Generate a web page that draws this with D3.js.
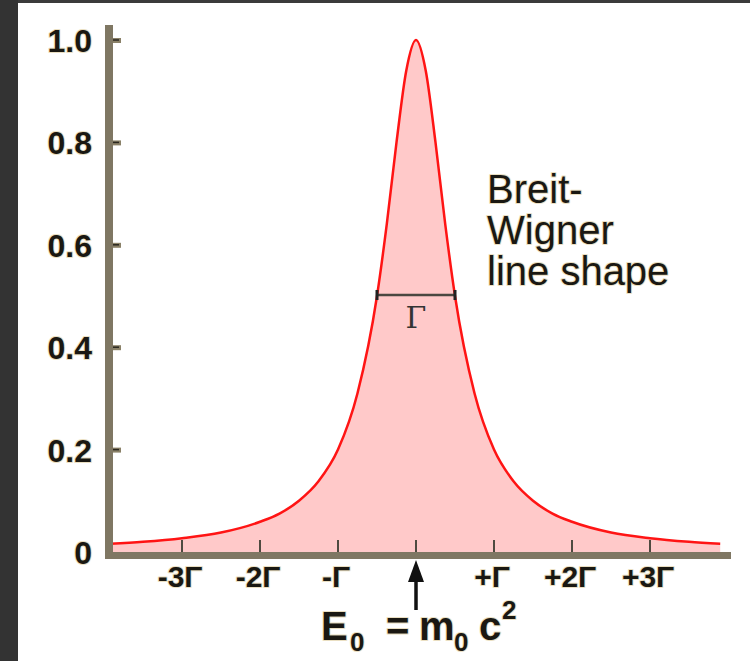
<!DOCTYPE html>
<html>
<head>
<meta charset="utf-8">
<script src="https://cdn.jsdelivr.net/npm/d3@7"></script>
<style>
  body { margin: 0; background: #ffffff; }
  svg { display: block; }
  text { font-family: "Liberation Sans", Arial, sans-serif; fill: #1a1812; }
  .halo { paint-order: stroke; stroke: #eadfc2; stroke-width: 2px; stroke-linejoin: round; }
</style>
</head>
<body>
<svg width="750" height="661"></svg>
<script>
// breit-wigner curve (x in units of Gamma, y relative)
var curveX = [-3.92, -3.5, -3, -2.5, -2, -1.75, -1.5, -1.25, -1, -0.75, -0.5, -0.375, -0.25, -0.125, 0,
              0.125, 0.25, 0.375, 0.5, 0.75, 1, 1.25, 1.5, 1.75, 2, 2.5, 3, 3.5, 3.9];
var curveY = [0.016, 0.020, 0.027, 0.038, 0.059, 0.075, 0.100, 0.138, 0.200, 0.310, 0.500, 0.640, 0.800, 0.940, 1.0,
              0.940, 0.800, 0.640, 0.500, 0.310, 0.200, 0.138, 0.100, 0.075, 0.059, 0.038, 0.027, 0.020, 0.016];

var xTicks = [-3, -2, -1, 0, 1, 2, 3];
var xLabels = ['-3\u0393', '-2\u0393', '-\u0393', '', '+\u0393', '+2\u0393', '+3\u0393'];
var yTicks = [0, 0.2, 0.4, 0.6, 0.8, 1.0];
var yLabels = ['0', '0.2', '0.4', '0.6', '0.8', '1.0'];
var halfWidth = [-0.5, 0.5];

var svg = d3.select('svg');

// dark frame strips
svg.append('rect').attr('x', 0).attr('y', 0).attr('width', 750).attr('height', 3).attr('fill', '#3b3b3b');
svg.append('rect').attr('x', 0).attr('y', 0).attr('width', 18).attr('height', 661).attr('fill', '#333333');

var x = d3.scaleLinear().domain([-4, 4]).range([104, 728]);
var y = d3.scaleLinear().domain([0, 1]).range([552, 40]);

var pts = curveX.map(function(v, i) { return [v, curveY[i]]; });

var area = d3.area()
  .x(function(d) { return x(d[0]); })
  .y0(y(0))
  .y1(function(d) { return y(d[1]); })
  .curve(d3.curveMonotoneX);
var line = d3.line()
  .x(function(d) { return x(d[0]); })
  .y(function(d) { return y(d[1]); })
  .curve(d3.curveMonotoneX);

svg.append('path').datum(pts).attr('d', area).attr('fill', '#ffc9c9');

// x ticks over the fill
svg.selectAll('.xt').data(xTicks).enter().append('line')
  .attr('x1', function(d) { return x(d); }).attr('x2', function(d) { return x(d); })
  .attr('y1', 540).attr('y2', 553)
  .attr('stroke', '#4f4a40').attr('stroke-width', 2);

svg.append('path').datum(pts).attr('d', line)
  .attr('fill', 'none').attr('stroke', '#ff1414').attr('stroke-width', 2.5);

// axes
var axisCol = '#7f7763';
svg.append('rect').attr('x', 105).attr('y', 25).attr('width', 8).attr('height', 534).attr('fill', axisCol);
svg.append('rect').attr('x', 105).attr('y', y(0)).attr('width', 626).attr('height', 7).attr('fill', axisCol);

svg.selectAll('.yt').data(yTicks.slice(1)).enter().append('rect')
  .attr('x', 113).attr('y', function(d) { return y(d) - 2; })
  .attr('width', 8).attr('height', 5).attr('fill', '#8a8168');
svg.selectAll('.ytd').data(yTicks.slice(1)).enter().append('line')
  .attr('x1', 113).attr('x2', 119)
  .attr('y1', function(d) { return y(d); }).attr('y2', function(d) { return y(d); })
  .attr('stroke', '#2a2720').attr('stroke-width', 1.5);

svg.selectAll('.yl').data(yTicks).enter().append('text')
  .attr('class', 'halo')
  .attr('x', 92).attr('y', function(d) { return y(d) + 12; })
  .attr('text-anchor', 'end')
  .attr('font-size', 32).attr('font-weight', 'bold')
  .text(function(d, i) { return yLabels[i]; });

svg.selectAll('.xl').data(xTicks).enter().append('text')
  .attr('class', 'halo')
  .attr('x', function(d) { return x(d) - 2; }).attr('y', 587)
  .attr('text-anchor', 'middle')
  .attr('font-size', 30).attr('font-weight', 'bold')
  .text(function(d, i) { return xLabels[i]; });

// arrow at E0
svg.append('line').attr('x1', x(0)).attr('x2', x(0)).attr('y1', 610).attr('y2', 576)
  .attr('stroke', '#111').attr('stroke-width', 3.5);
svg.append('path')
  .attr('d', 'M' + x(0) + ',560 L' + (x(0) - 8) + ',582 L' + (x(0) + 8) + ',582 Z')
  .attr('fill', '#111');

// E0 = m0 c^2
var eq = svg.append('text').attr('class', 'halo').attr('y', 640)
  .attr('font-size', 40).attr('font-weight', 'bold');
eq.append('tspan').attr('x', 321).text('E');
eq.append('tspan').attr('x', 350).attr('y', 651).attr('font-size', 26).text('0');
eq.append('tspan').attr('x', 386).attr('y', 640).text('=');
eq.append('tspan').attr('x', 419).attr('y', 640).text('m');
eq.append('tspan').attr('x', 454).attr('y', 651).attr('font-size', 26).text('0');
eq.append('tspan').attr('x', 479).attr('y', 640).text('c');
eq.append('tspan').attr('x', 502).attr('y', 619).attr('font-size', 26).text('2');

// FWHM marker
var yh = y(0.5) - 1;
svg.append('line').attr('x1', x(halfWidth[0])).attr('x2', x(halfWidth[1])).attr('y1', yh).attr('y2', yh)
  .attr('stroke', '#4a4740').attr('stroke-width', 2.5);
svg.selectAll('.cap').data(halfWidth).enter().append('line')
  .attr('x1', function(d) { return x(d); }).attr('x2', function(d) { return x(d); })
  .attr('y1', yh - 5).attr('y2', yh + 5)
  .attr('stroke', '#222').attr('stroke-width', 3);
svg.append('text').attr('x', x(0)).attr('y', 328).attr('text-anchor', 'middle')
  .style('font-family', '"DejaVu Serif", "Liberation Serif", serif')
  .attr('font-size', 30).style('fill', '#333')
  .text('\u0393');

// label
var lab = svg.append('text').attr('class', 'halo').attr('font-size', 40);
lab.append('tspan').attr('x', 487).attr('y', 203).text('Breit-');
lab.append('tspan').attr('x', 487).attr('y', 244).text('Wigner');
lab.append('tspan').attr('x', 487).attr('y', 285).text('line shape');
</script>
</body>
</html>
